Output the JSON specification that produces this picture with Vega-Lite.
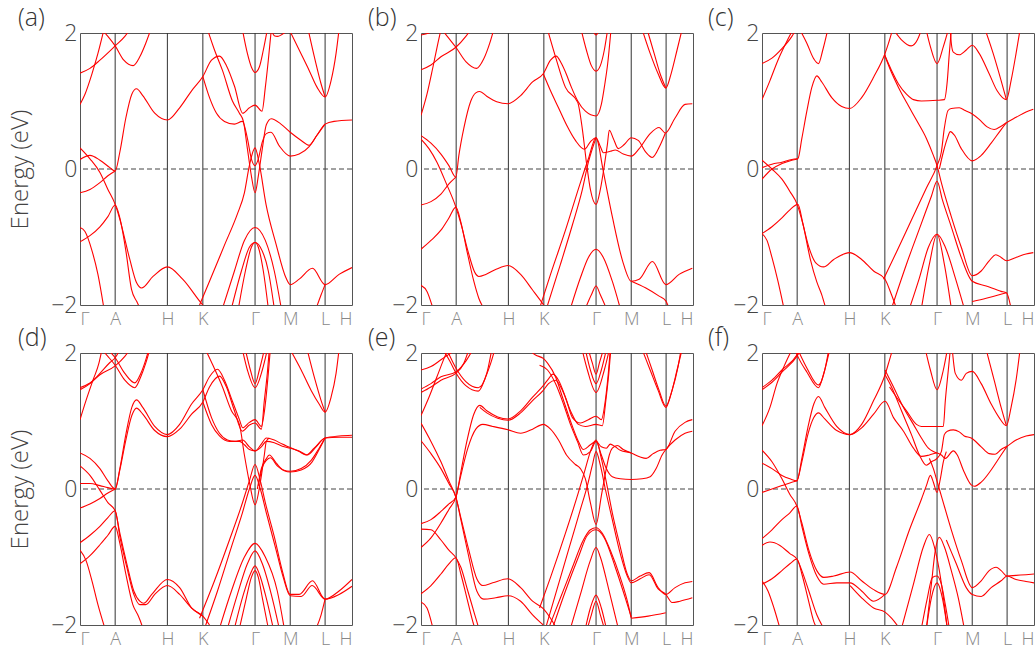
{
"$schema":"https://vega.github.io/schema/vega-lite/v6.json",
"padding":{"left":8,"top":5,"right":0,"bottom":0},
"config":{"font":"Open Sans","view":{"stroke":"#555","strokeWidth":1},
"axis":{"ticks":false,"domain":false,"grid":false,"labelFontWeight":300,"titleFontWeight":300},
"axisX":{"labelFontSize":18,"labelColor":"#888","labelPadding":5,"labelFlush":true,"labelOverlap":false},
"axisY":{"labelFontSize":23,"labelColor":"#444","labelPadding":3,"titleFontSize":24,"titleColor":"#444","titlePadding":18},
"title":{"fontSize":25,"fontWeight":300,"anchor":"start","frame":"group","color":"#333","offset":4,"dy":13}},
"datasets":{
"sym":[{"k":35.3},{"k":87.7},{"k":123.3},{"k":175.7},{"k":211},{"k":246}],
"zero":[{"e":0}],
"pa":[
{"b":1,"k":0,"e":1.41},{"b":1,"k":10,"e":1.48},{"b":1,"k":20,"e":1.6},{"b":1,"k":35.3,"e":1.81},{"b":1,"k":45,"e":1.95},{"b":1,"k":50,"e":2.05},
{"b":2,"k":22,"e":2.05},{"b":2,"k":28,"e":1.95},{"b":2,"k":35.3,"e":1.81},{"b":2,"k":44,"e":1.6},{"b":2,"k":53.3,"e":1.52},{"b":2,"k":60,"e":1.65},{"b":2,"k":66,"e":1.85},{"b":2,"k":71,"e":2.05},
{"b":3,"k":0,"e":0.95},{"b":3,"k":5,"e":1.1},{"b":3,"k":12,"e":1.4},{"b":3,"k":18,"e":1.7},{"b":3,"k":24,"e":2.05},
{"b":4,"k":0,"e":0.31},{"b":4,"k":10,"e":0.15},{"b":4,"k":20,"e":-0.05},{"b":4,"k":28,"e":-0.3},{"b":4,"k":35.3,"e":-0.52},{"b":4,"k":40,"e":-0.74},{"b":4,"k":50,"e":-1.33},{"b":4,"k":56.7,"e":-1.67},{"b":4,"k":61.7,"e":-1.75},{"b":4,"k":73.3,"e":-1.58},{"b":4,"k":87.7,"e":-1.44},{"b":4,"k":103,"e":-1.62},{"b":4,"k":123.3,"e":-2.0},{"b":4,"k":130,"e":-2.1},
{"b":5,"k":0,"e":0.14},{"b":5,"k":10,"e":0.2},{"b":5,"k":20,"e":0.13},{"b":5,"k":30,"e":0.02},{"b":5,"k":35.3,"e":-0.03},{"b":5,"k":40,"e":0.25},{"b":5,"k":46,"e":0.75},{"b":5,"k":52,"e":1.1},{"b":5,"k":56.7,"e":1.18},{"b":5,"k":63,"e":1.08},{"b":5,"k":75,"e":0.82},{"b":5,"k":87.7,"e":0.72},{"b":5,"k":100,"e":0.9},{"b":5,"k":112,"e":1.15},{"b":5,"k":123.3,"e":1.36},{"b":5,"k":132,"e":1.6},{"b":5,"k":140,"e":1.66},{"b":5,"k":147,"e":1.52},{"b":5,"k":155,"e":1.22},{"b":5,"k":163.3,"e":0.82},{"b":5,"k":170,"e":0.9},{"b":5,"k":175.7,"e":0.94},{"b":5,"k":182.7,"e":0.85},{"b":5,"k":186,"e":1.2},{"b":5,"k":189,"e":1.6},{"b":5,"k":192,"e":2.05},
{"b":6,"k":0,"e":-0.35},{"b":6,"k":10,"e":-0.3},{"b":6,"k":20,"e":-0.2},{"b":6,"k":28,"e":-0.1},{"b":6,"k":35.3,"e":-0.03},
{"b":7,"k":0,"e":-1.07},{"b":7,"k":10,"e":-0.98},{"b":7,"k":20,"e":-0.85},{"b":7,"k":28,"e":-0.7},{"b":7,"k":35.3,"e":-0.53},{"b":7,"k":40,"e":-0.72},{"b":7,"k":46,"e":-1.2},{"b":7,"k":51.7,"e":-1.77},{"b":7,"k":57,"e":-1.95},{"b":7,"k":62,"e":-2.1},
{"b":8,"k":0,"e":-0.86},{"b":8,"k":5,"e":-0.92},{"b":8,"k":12,"e":-1.2},{"b":8,"k":18,"e":-1.55},{"b":8,"k":24,"e":-2.05},
{"b":9,"k":128,"e":2.05},{"b":9,"k":135,"e":1.75},{"b":9,"k":143,"e":1.45},{"b":9,"k":153,"e":1.0},{"b":9,"k":160,"e":0.82},{"b":9,"k":164,"e":0.7},{"b":9,"k":168,"e":0.3},{"b":9,"k":172,"e":-0.1},{"b":9,"k":175.7,"e":-0.35},{"b":9,"k":179,"e":-0.1},{"b":9,"k":183,"e":0.3},{"b":9,"k":187,"e":0.65},{"b":9,"k":192,"e":0.74},{"b":9,"k":201.7,"e":0.66},{"b":9,"k":211,"e":0.54},{"b":9,"k":222,"e":0.42},{"b":9,"k":230,"e":0.35},{"b":9,"k":238,"e":0.5},{"b":9,"k":246,"e":0.66},{"b":9,"k":255,"e":0.7},{"b":9,"k":273,"e":0.72},
{"b":10,"k":123.3,"e":1.36},{"b":10,"k":130,"e":1.05},{"b":10,"k":137,"e":0.82},{"b":10,"k":145,"e":0.7},{"b":10,"k":155,"e":0.66},{"b":10,"k":163,"e":0.7},{"b":10,"k":168,"e":0.45},{"b":10,"k":172,"e":0.15},{"b":10,"k":175.7,"e":0.05},{"b":10,"k":179,"e":0.15},{"b":10,"k":183,"e":0.4},{"b":10,"k":187,"e":0.52},{"b":10,"k":191.7,"e":0.54},{"b":10,"k":200,"e":0.34},{"b":10,"k":211,"e":0.19},{"b":10,"k":220,"e":0.22},{"b":10,"k":230,"e":0.33},{"b":10,"k":238,"e":0.5},{"b":10,"k":246,"e":0.66},
{"b":12,"k":120,"e":-2.0},{"b":12,"k":130,"e":-1.65},{"b":12,"k":145,"e":-1.12},{"b":12,"k":158,"e":-0.66},{"b":12,"k":165,"e":-0.35},{"b":12,"k":170,"e":0.05},{"b":12,"k":175.7,"e":0.31},{"b":12,"k":180,"e":0.07},{"b":12,"k":186.7,"e":-0.52},{"b":12,"k":196.7,"e":-1.1},{"b":12,"k":206.7,"e":-1.6},{"b":12,"k":211,"e":-1.7},{"b":12,"k":220,"e":-1.62},{"b":12,"k":233.3,"e":-1.46},{"b":12,"k":246,"e":-1.7},{"b":12,"k":260,"e":-1.55},{"b":12,"k":273,"e":-1.45},
{"b":13,"k":143,"e":-2.05},{"b":13,"k":155,"e":-1.5},{"b":13,"k":165,"e":-1.05},{"b":13,"k":175.7,"e":-0.86},{"b":13,"k":186,"e":-1.05},{"b":13,"k":195,"e":-1.5},{"b":13,"k":202,"e":-2.05},
{"b":14,"k":152,"e":-2.05},{"b":14,"k":162,"e":-1.5},{"b":14,"k":170,"e":-1.15},{"b":14,"k":175.7,"e":-1.08},{"b":14,"k":181,"e":-1.15},{"b":14,"k":189,"e":-1.5},{"b":14,"k":195,"e":-2.05},
{"b":15,"k":159,"e":-2.05},{"b":15,"k":166,"e":-1.5},{"b":15,"k":172,"e":-1.15},{"b":15,"k":175.7,"e":-1.08},{"b":15,"k":179,"e":-1.15},{"b":15,"k":184,"e":-1.5},{"b":15,"k":189,"e":-2.05},
{"b":16,"k":163,"e":2.05},{"b":16,"k":168,"e":1.7},{"b":16,"k":172,"e":1.5},{"b":16,"k":175.7,"e":1.42},{"b":16,"k":180,"e":1.5},{"b":16,"k":184,"e":1.75},{"b":16,"k":188,"e":2.05},
{"b":17,"k":192,"e":2.05},{"b":17,"k":195,"e":1.96},{"b":17,"k":198,"e":1.95},{"b":17,"k":205,"e":2.0},{"b":17,"k":209,"e":2.05},
{"b":18,"k":210,"e":2.05},{"b":18,"k":220,"e":1.75},{"b":18,"k":230,"e":1.45},{"b":18,"k":238,"e":1.2},{"b":18,"k":246,"e":1.06},{"b":18,"k":252,"e":1.3},{"b":18,"k":257,"e":1.7},{"b":18,"k":260,"e":2.05},
{"b":19,"k":229,"e":2.05},{"b":19,"k":236,"e":1.6},{"b":19,"k":242,"e":1.25},{"b":19,"k":246,"e":1.06},
{"b":20,"k":237,"e":-2.05},{"b":20,"k":242,"e":-1.85},{"b":20,"k":246,"e":-1.7}
],
"pb":[
{"b":1,"k":0,"e":1.46},{"b":1,"k":10,"e":1.53},{"b":1,"k":20,"e":1.65},{"b":1,"k":35,"e":1.79},{"b":1,"k":45,"e":1.95},{"b":1,"k":50,"e":2.05},
{"b":2,"k":21,"e":2.05},{"b":2,"k":28,"e":1.92},{"b":2,"k":35,"e":1.79},{"b":2,"k":45,"e":1.58},{"b":2,"k":55.8,"e":1.48},{"b":2,"k":63,"e":1.62},{"b":2,"k":69,"e":1.85},{"b":2,"k":73,"e":2.05},
{"b":3,"k":0,"e":0.79},{"b":3,"k":6,"e":1.1},{"b":3,"k":12,"e":1.5},{"b":3,"k":17,"e":1.85},{"b":3,"k":20,"e":2.05},
{"b":4,"k":0,"e":1.97},{"b":4,"k":8,"e":2.0},{"b":4,"k":15,"e":2.05},
{"b":5,"k":0,"e":0.44},{"b":5,"k":8,"e":0.3},{"b":5,"k":16,"e":0.1},{"b":5,"k":25,"e":-0.2},{"b":5,"k":35,"e":-0.56},{"b":5,"k":40,"e":-0.8},{"b":5,"k":47,"e":-1.2},{"b":5,"k":54,"e":-1.52},{"b":5,"k":58,"e":-1.58},{"b":5,"k":65,"e":-1.55},{"b":5,"k":76,"e":-1.47},{"b":5,"k":87.3,"e":-1.42},{"b":5,"k":100,"e":-1.55},{"b":5,"k":112,"e":-1.78},{"b":5,"k":122.7,"e":-1.99},{"b":5,"k":128,"e":-2.1},
{"b":6,"k":0,"e":0.49},{"b":6,"k":10,"e":0.38},{"b":6,"k":20,"e":0.22},{"b":6,"k":28,"e":0.05},{"b":6,"k":35,"e":-0.12},{"b":6,"k":38,"e":0.2},{"b":6,"k":43,"e":0.6},{"b":6,"k":50,"e":1.0},{"b":6,"k":55,"e":1.12},{"b":6,"k":59,"e":1.14},{"b":6,"k":66,"e":1.07},{"b":6,"k":76,"e":0.99},{"b":6,"k":87.3,"e":0.96},{"b":6,"k":100,"e":1.08},{"b":6,"k":112,"e":1.28},{"b":6,"k":122.7,"e":1.4},{"b":6,"k":130,"e":1.6},{"b":6,"k":135.7,"e":1.66},{"b":6,"k":141,"e":1.55},{"b":6,"k":145.7,"e":1.4},{"b":6,"k":151,"e":1.2},{"b":6,"k":157.3,"e":1.0},{"b":6,"k":165,"e":0.85},{"b":6,"k":175.7,"e":0.78},{"b":6,"k":181,"e":0.95},{"b":6,"k":184.5,"e":1.25},{"b":6,"k":187.3,"e":1.54},{"b":6,"k":190.7,"e":2.05},
{"b":7,"k":0,"e":-0.53},{"b":7,"k":10,"e":-0.48},{"b":7,"k":20,"e":-0.37},{"b":7,"k":28,"e":-0.22},{"b":7,"k":35,"e":-0.12},
{"b":8,"k":0,"e":-1.18},{"b":8,"k":10,"e":-1.05},{"b":8,"k":20,"e":-0.9},{"b":8,"k":28,"e":-0.72},{"b":8,"k":35,"e":-0.56},{"b":8,"k":40,"e":-0.78},{"b":8,"k":46,"e":-1.2},{"b":8,"k":53,"e":-1.65},{"b":8,"k":58,"e":-1.9},{"b":8,"k":63,"e":-2.05},
{"b":9,"k":0,"e":-1.71},{"b":9,"k":6,"e":-1.8},{"b":9,"k":12,"e":-2.05},
{"b":10,"k":122.7,"e":1.4},{"b":10,"k":130,"e":1.15},{"b":10,"k":138,"e":0.9},{"b":10,"k":146,"e":0.65},{"b":10,"k":155,"e":0.42},{"b":10,"k":164,"e":0.29},{"b":10,"k":170,"e":0.4},{"b":10,"k":175.7,"e":0.46},{"b":10,"k":180,"e":0.33},{"b":10,"k":183,"e":0.24},{"b":10,"k":190,"e":0.26},{"b":10,"k":195,"e":0.28},{"b":10,"k":203,"e":0.22},{"b":10,"k":211,"e":0.19},{"b":10,"k":219,"e":0.3},{"b":10,"k":230,"e":0.52},{"b":10,"k":239,"e":0.61},{"b":10,"k":245.3,"e":0.53},{"b":10,"k":255,"e":0.75},{"b":10,"k":265,"e":0.95},{"b":10,"k":272.3,"e":0.96},
{"b":11,"k":127,"e":2.05},{"b":11,"k":135,"e":1.65},{"b":11,"k":145,"e":1.2},{"b":11,"k":157.3,"e":0.98},{"b":11,"k":162,"e":0.58},{"b":11,"k":166,"e":0.1},{"b":11,"k":170,"e":-0.3},{"b":11,"k":175.7,"e":-0.52},{"b":11,"k":180,"e":-0.3},{"b":11,"k":184,"e":0.05},{"b":11,"k":187,"e":0.35},{"b":11,"k":189,"e":0.57},{"b":11,"k":193,"e":0.45},{"b":11,"k":198,"e":0.3},{"b":11,"k":204,"e":0.36},{"b":11,"k":211,"e":0.46},{"b":11,"k":218,"e":0.42},{"b":11,"k":226,"e":0.24},{"b":11,"k":232,"e":0.17},{"b":11,"k":240,"e":0.35},{"b":11,"k":245.3,"e":0.53},
{"b":12,"k":119,"e":-2.05},{"b":12,"k":130,"e":-1.55},{"b":12,"k":145,"e":-0.9},{"b":12,"k":160,"e":-0.2},{"b":12,"k":168,"e":0.15},{"b":12,"k":175.7,"e":0.46},{"b":12,"k":177.3,"e":0.41},{"b":12,"k":182.3,"e":0.02},{"b":12,"k":192.3,"e":-0.72},{"b":12,"k":202.3,"e":-1.35},{"b":12,"k":211,"e":-1.65},{"b":12,"k":219,"e":-1.62},{"b":12,"k":232.3,"e":-1.36},{"b":12,"k":245.7,"e":-1.7},{"b":12,"k":259,"e":-1.55},{"b":12,"k":272.3,"e":-1.46},
{"b":13,"k":126,"e":-2.05},{"b":13,"k":140,"e":-1.4},{"b":13,"k":152,"e":-0.82},{"b":13,"k":162,"e":-0.3},{"b":13,"k":168,"e":0.1},{"b":13,"k":172,"e":0.3},{"b":13,"k":175.7,"e":0.46},
{"b":14,"k":211,"e":-1.65},{"b":14,"k":225.7,"e":-1.75},{"b":14,"k":239,"e":-1.87},{"b":14,"k":245.7,"e":-1.94},{"b":14,"k":249,"e":-2.05},
{"b":15,"k":150,"e":-2.05},{"b":15,"k":160,"e":-1.6},{"b":15,"k":168,"e":-1.3},{"b":15,"k":175.7,"e":-1.18},{"b":15,"k":183,"e":-1.3},{"b":15,"k":192,"e":-1.65},{"b":15,"k":200,"e":-2.05},
{"b":16,"k":165,"e":-2.05},{"b":16,"k":171,"e":-1.85},{"b":16,"k":175.7,"e":-1.72},{"b":16,"k":180,"e":-1.85},{"b":16,"k":186,"e":-2.05},
{"b":17,"k":160.7,"e":2.05},{"b":17,"k":166,"e":1.75},{"b":17,"k":171,"e":1.52},{"b":17,"k":175.7,"e":1.44},{"b":17,"k":180,"e":1.52},{"b":17,"k":184,"e":1.75},{"b":17,"k":187.3,"e":2.05},
{"b":18,"k":172,"e":2.05},{"b":18,"k":175.7,"e":1.97},{"b":18,"k":179,"e":2.05},
{"b":19,"k":222,"e":2.05},{"b":19,"k":230,"e":1.7},{"b":19,"k":238,"e":1.4},{"b":19,"k":245.7,"e":1.19},{"b":19,"k":251,"e":1.4},{"b":19,"k":257,"e":1.75},{"b":19,"k":262,"e":2.05},
{"b":20,"k":227,"e":2.05},{"b":20,"k":234,"e":1.7},{"b":20,"k":240,"e":1.4},{"b":20,"k":245.7,"e":1.19}
],
"pc":[
{"b":1,"k":0,"e":1.55},{"b":1,"k":10,"e":1.63},{"b":1,"k":20,"e":1.77},{"b":1,"k":30,"e":1.95},{"b":1,"k":34,"e":2.05},
{"b":2,"k":0,"e":1.02},{"b":2,"k":8,"e":1.3},{"b":2,"k":16,"e":1.6},{"b":2,"k":24,"e":1.85},{"b":2,"k":31,"e":2.05},
{"b":3,"k":38,"e":2.05},{"b":3,"k":45,"e":1.85},{"b":3,"k":52,"e":1.62},{"b":3,"k":56.7,"e":1.55},{"b":3,"k":61,"e":1.75},{"b":3,"k":66,"e":2.05},
{"b":4,"k":0,"e":0.13},{"b":4,"k":10,"e":0.0},{"b":4,"k":20,"e":-0.15},{"b":4,"k":28,"e":-0.33},{"b":4,"k":35.3,"e":-0.52},{"b":4,"k":40,"e":-0.75},{"b":4,"k":47,"e":-1.15},{"b":4,"k":54,"e":-1.38},{"b":4,"k":61.7,"e":-1.44},{"b":4,"k":72,"e":-1.33},{"b":4,"k":88,"e":-1.23},{"b":4,"k":100,"e":-1.33},{"b":4,"k":112,"e":-1.5},{"b":4,"k":123,"e":-1.61},{"b":4,"k":130,"e":-1.85},{"b":4,"k":135,"e":-2.05},
{"b":5,"k":0,"e":-0.15},{"b":5,"k":10,"e":0.0},{"b":5,"k":20,"e":0.08},{"b":5,"k":30,"e":0.13},{"b":5,"k":36,"e":0.15},{"b":5,"k":40,"e":0.45},{"b":5,"k":45,"e":0.85},{"b":5,"k":50,"e":1.2},{"b":5,"k":55,"e":1.37},{"b":5,"k":60,"e":1.28},{"b":5,"k":70,"e":1.05},{"b":5,"k":80,"e":0.92},{"b":5,"k":88,"e":0.89},{"b":5,"k":100,"e":1.05},{"b":5,"k":112,"e":1.35},{"b":5,"k":123,"e":1.68},{"b":5,"k":127,"e":1.85},{"b":5,"k":131,"e":2.05},
{"b":6,"k":0,"e":0.02},{"b":6,"k":10,"e":0.07},{"b":6,"k":20,"e":0.1},{"b":6,"k":30,"e":0.14},{"b":6,"k":36,"e":0.15},
{"b":7,"k":0,"e":-0.95},{"b":7,"k":10,"e":-0.85},{"b":7,"k":20,"e":-0.72},{"b":7,"k":28,"e":-0.6},{"b":7,"k":36,"e":-0.52},{"b":7,"k":41,"e":-0.8},{"b":7,"k":48.4,"e":-1.32},{"b":7,"k":55,"e":-1.66},{"b":7,"k":60,"e":-1.85},{"b":7,"k":64,"e":-2.05},
{"b":8,"k":0,"e":-0.95},{"b":8,"k":5,"e":-1.05},{"b":8,"k":10,"e":-1.3},{"b":8,"k":16,"e":-1.65},{"b":8,"k":22,"e":-2.05},
{"b":9,"k":123,"e":1.68},{"b":9,"k":130,"e":1.45},{"b":9,"k":137,"e":1.25},{"b":9,"k":145,"e":1.1},{"b":9,"k":152,"e":1.02},{"b":9,"k":160,"e":1.0},{"b":9,"k":175.7,"e":1.01},{"b":9,"k":183,"e":1.02},{"b":9,"k":186,"e":1.3},{"b":9,"k":188,"e":1.7},{"b":9,"k":190,"e":2.05},
{"b":10,"k":132,"e":2.05},{"b":10,"k":140,"e":1.9},{"b":10,"k":149.7,"e":1.81},{"b":10,"k":156,"e":1.9},{"b":10,"k":160,"e":2.05},
{"b":11,"k":164.7,"e":2.05},{"b":11,"k":169,"e":1.8},{"b":11,"k":175.7,"e":1.55},{"b":11,"k":182,"e":1.8},{"b":11,"k":187,"e":2.05},
{"b":12,"k":189,"e":2.05},{"b":12,"k":190,"e":1.85},{"b":12,"k":192,"e":1.72},{"b":12,"k":198,"e":1.68},{"b":12,"k":205,"e":1.75},{"b":12,"k":211,"e":1.82},{"b":12,"k":218,"e":1.7},{"b":12,"k":228,"e":1.4},{"b":12,"k":236,"e":1.15},{"b":12,"k":245.3,"e":1.02},{"b":12,"k":250,"e":1.3},{"b":12,"k":255,"e":1.7},{"b":12,"k":259,"e":2.05},
{"b":13,"k":224,"e":2.05},{"b":13,"k":232,"e":1.7},{"b":13,"k":240,"e":1.3},{"b":13,"k":245.3,"e":1.02},
{"b":14,"k":122,"e":-1.62},{"b":14,"k":135,"e":-1.22},{"b":14,"k":150,"e":-0.75},{"b":14,"k":165,"e":-0.28},{"b":14,"k":175.7,"e":0.05},{"b":14,"k":180,"e":0.25},{"b":14,"k":183,"e":0.6},{"b":14,"k":186.7,"e":0.86},{"b":14,"k":190,"e":0.89},{"b":14,"k":198,"e":0.9},{"b":14,"k":204,"e":0.86},{"b":14,"k":211,"e":0.81},{"b":14,"k":218,"e":0.73},{"b":14,"k":226,"e":0.62},{"b":14,"k":233,"e":0.58},{"b":14,"k":240,"e":0.63},{"b":14,"k":245.3,"e":0.68},{"b":14,"k":255,"e":0.76},{"b":14,"k":265,"e":0.84},{"b":14,"k":272.3,"e":0.88},
{"b":15,"k":123,"e":1.68},{"b":15,"k":128.5,"e":1.47},{"b":15,"k":137,"e":1.2},{"b":15,"k":145,"e":0.98},{"b":15,"k":155,"e":0.72},{"b":15,"k":165,"e":0.45},{"b":15,"k":172,"e":0.2},{"b":15,"k":175.7,"e":0.05},{"b":15,"k":180,"e":-0.2},{"b":15,"k":190,"e":-0.7},{"b":15,"k":200,"e":-1.15},{"b":15,"k":211,"e":-1.57},{"b":15,"k":220,"e":-1.5},{"b":15,"k":228,"e":-1.35},{"b":15,"k":234.7,"e":-1.26},{"b":15,"k":240,"e":-1.3},{"b":15,"k":245.3,"e":-1.35},{"b":15,"k":255,"e":-1.3},{"b":15,"k":265,"e":-1.25},{"b":15,"k":272.3,"e":-1.23},
{"b":16,"k":130,"e":-2.05},{"b":16,"k":145,"e":-1.4},{"b":16,"k":160,"e":-0.8},{"b":16,"k":170,"e":-0.4},{"b":16,"k":175.7,"e":-0.18},{"b":16,"k":181,"e":-0.45},{"b":16,"k":190,"e":-0.85},{"b":16,"k":200,"e":-1.3},{"b":16,"k":211,"e":-1.65},{"b":16,"k":225,"e":-1.72},{"b":16,"k":240,"e":-1.8},{"b":16,"k":245.3,"e":-1.82},{"b":16,"k":250,"e":-2.05},
{"b":17,"k":211,"e":-1.95},{"b":17,"k":225,"e":-1.9},{"b":17,"k":238,"e":-1.85},{"b":17,"k":245.3,"e":-1.82},
{"b":18,"k":148,"e":-2.05},{"b":18,"k":158,"e":-1.6},{"b":18,"k":167,"e":-1.15},{"b":18,"k":175.7,"e":-0.96},{"b":18,"k":184,"e":-1.15},{"b":18,"k":194,"e":-1.6},{"b":18,"k":203,"e":-2.05},
{"b":19,"k":160,"e":-2.05},{"b":19,"k":168,"e":-1.4},{"b":19,"k":175.7,"e":-0.96},{"b":19,"k":183,"e":-1.4},{"b":19,"k":190,"e":-2.05},
{"b":20,"k":178,"e":0.0},{"b":20,"k":182,"e":0.25},{"b":20,"k":186,"e":0.45},{"b":20,"k":189,"e":0.55},{"b":20,"k":193,"e":0.5},{"b":20,"k":200,"e":0.3},{"b":20,"k":211,"e":0.12},{"b":20,"k":220,"e":0.2},{"b":20,"k":230,"e":0.38},{"b":20,"k":240,"e":0.58},{"b":20,"k":245.3,"e":0.68}
],
"pd":[
{"b":1,"k":0,"e":1.49},{"b":1,"k":10,"e":1.56},{"b":1,"k":20,"e":1.68},{"b":1,"k":35.3,"e":1.81},{"b":1,"k":45,"e":1.95},{"b":1,"k":50,"e":2.05},
{"b":2,"k":0,"e":1.46},{"b":2,"k":10,"e":1.55},{"b":2,"k":20,"e":1.7},{"b":2,"k":30,"e":1.86},{"b":2,"k":35.3,"e":1.93},{"b":2,"k":40,"e":2.05},
{"b":3,"k":22,"e":2.05},{"b":3,"k":28,"e":1.95},{"b":3,"k":35.3,"e":1.82},{"b":3,"k":45,"e":1.6},{"b":3,"k":55,"e":1.49},{"b":3,"k":61,"e":1.65},{"b":3,"k":66,"e":1.85},{"b":3,"k":70,"e":2.05},
{"b":4,"k":28,"e":2.05},{"b":4,"k":35.3,"e":1.93},{"b":4,"k":45,"e":1.7},{"b":4,"k":55,"e":1.56},{"b":4,"k":61,"e":1.7},{"b":4,"k":66,"e":1.9},{"b":4,"k":69,"e":2.05},
{"b":5,"k":0,"e":1.02},{"b":5,"k":6,"e":1.3},{"b":5,"k":13,"e":1.6},{"b":5,"k":19,"e":1.85},{"b":5,"k":22,"e":2.05},
{"b":6,"k":0,"e":0.53},{"b":6,"k":10,"e":0.45},{"b":6,"k":20,"e":0.3},{"b":6,"k":28,"e":0.12},{"b":6,"k":35.3,"e":0.0},{"b":6,"k":40,"e":0.3},{"b":6,"k":46,"e":0.8},{"b":6,"k":52,"e":1.2},{"b":6,"k":56.7,"e":1.31},{"b":6,"k":63,"e":1.2},{"b":6,"k":75,"e":0.92},{"b":6,"k":87.7,"e":0.8},{"b":6,"k":100,"e":0.95},{"b":6,"k":112,"e":1.25},{"b":6,"k":123.3,"e":1.46},{"b":6,"k":130,"e":1.65},{"b":6,"k":138,"e":1.76},{"b":6,"k":145,"e":1.6},{"b":6,"k":153,"e":1.29},{"b":6,"k":160,"e":1.02},{"b":6,"k":163.3,"e":0.9},{"b":6,"k":170,"e":0.98},{"b":6,"k":175.7,"e":1.02},{"b":6,"k":182,"e":0.92},{"b":6,"k":186,"e":1.25},{"b":6,"k":189,"e":1.7},{"b":6,"k":191,"e":2.05},
{"b":7,"k":0,"e":0.08},{"b":7,"k":10,"e":0.08},{"b":7,"k":20,"e":0.05},{"b":7,"k":28,"e":0.02},{"b":7,"k":35.3,"e":0.0},{"b":7,"k":40,"e":0.28},{"b":7,"k":46,"e":0.72},{"b":7,"k":52,"e":1.08},{"b":7,"k":56.7,"e":1.19},{"b":7,"k":63,"e":1.1},{"b":7,"k":75,"e":0.86},{"b":7,"k":87.7,"e":0.77},{"b":7,"k":100,"e":0.88},{"b":7,"k":112,"e":1.1},{"b":7,"k":123.3,"e":1.28},{"b":7,"k":130,"e":1.5},{"b":7,"k":140,"e":1.66},{"b":7,"k":147,"e":1.5},{"b":7,"k":155,"e":1.15},{"b":7,"k":163,"e":0.85},{"b":7,"k":170,"e":0.94},{"b":7,"k":175.7,"e":0.97},{"b":7,"k":182,"e":0.88},{"b":7,"k":185,"e":1.3},{"b":7,"k":188,"e":1.7},{"b":7,"k":190,"e":2.05},
{"b":8,"k":0,"e":0.34},{"b":8,"k":10,"e":0.2},{"b":8,"k":20,"e":-0.02},{"b":8,"k":28,"e":-0.2},{"b":8,"k":35.3,"e":-0.32},{"b":8,"k":40,"e":-0.65},{"b":8,"k":47,"e":-1.1},{"b":8,"k":54,"e":-1.5},{"b":8,"k":60,"e":-1.65},{"b":8,"k":64,"e":-1.68},{"b":8,"k":72,"e":-1.55},{"b":8,"k":87.7,"e":-1.33},{"b":8,"k":100,"e":-1.45},{"b":8,"k":112,"e":-1.75},{"b":8,"k":123.3,"e":-1.87},{"b":8,"k":130,"e":-2.0},
{"b":9,"k":0,"e":-0.79},{"b":9,"k":10,"e":-0.68},{"b":9,"k":20,"e":-0.55},{"b":9,"k":28,"e":-0.42},{"b":9,"k":35.3,"e":-0.32},{"b":9,"k":40,"e":-0.7},{"b":9,"k":47,"e":-1.15},{"b":9,"k":54,"e":-1.55},{"b":9,"k":60,"e":-1.7},{"b":9,"k":66,"e":-1.7},{"b":9,"k":75,"e":-1.55},{"b":9,"k":87.7,"e":-1.42},{"b":9,"k":100,"e":-1.55},{"b":9,"k":112,"e":-1.75},{"b":9,"k":123.3,"e":-1.87},
{"b":10,"k":0,"e":-0.28},{"b":10,"k":10,"e":-0.22},{"b":10,"k":20,"e":-0.14},{"b":10,"k":28,"e":-0.06},{"b":10,"k":35.3,"e":0.0},
{"b":11,"k":0,"e":-1.1},{"b":11,"k":10,"e":-0.98},{"b":11,"k":20,"e":-0.82},{"b":11,"k":28,"e":-0.68},{"b":11,"k":35.3,"e":-0.55},{"b":11,"k":40,"e":-0.8},{"b":11,"k":46,"e":-1.25},{"b":11,"k":53,"e":-1.7},{"b":11,"k":58,"e":-1.85},{"b":11,"k":62,"e":-2.0},{"b":11,"k":64,"e":-2.1},
{"b":12,"k":0,"e":-0.9},{"b":12,"k":6,"e":-1.05},{"b":12,"k":12,"e":-1.35},{"b":12,"k":18,"e":-1.7},{"b":12,"k":25,"e":-2.05},
{"b":13,"k":123.3,"e":1.46},{"b":13,"k":132,"e":1.05},{"b":13,"k":140,"e":0.82},{"b":13,"k":148,"e":0.72},{"b":13,"k":155,"e":0.7},{"b":13,"k":163.3,"e":0.72},{"b":13,"k":170,"e":0.62},{"b":13,"k":175.7,"e":0.56},{"b":13,"k":182,"e":0.66},{"b":13,"k":187,"e":0.75},{"b":13,"k":195,"e":0.72},{"b":13,"k":203,"e":0.66},{"b":13,"k":211,"e":0.61},{"b":13,"k":220,"e":0.55},{"b":13,"k":227,"e":0.5},{"b":13,"k":235,"e":0.6},{"b":13,"k":246,"e":0.75},{"b":13,"k":260,"e":0.78},{"b":13,"k":273,"e":0.79},
{"b":14,"k":123.3,"e":1.28},{"b":14,"k":132,"e":0.95},{"b":14,"k":140,"e":0.78},{"b":14,"k":150,"e":0.7},{"b":14,"k":160,"e":0.7},{"b":14,"k":165,"e":0.65},{"b":14,"k":170,"e":0.58},{"b":14,"k":175.7,"e":0.56},{"b":14,"k":182,"e":0.62},{"b":14,"k":187,"e":0.7},{"b":14,"k":195,"e":0.68},{"b":14,"k":203,"e":0.63},{"b":14,"k":211,"e":0.6},{"b":14,"k":220,"e":0.56},{"b":14,"k":228,"e":0.5},{"b":14,"k":237,"e":0.62},{"b":14,"k":246,"e":0.75},{"b":14,"k":260,"e":0.76},{"b":14,"k":273,"e":0.76},
{"b":15,"k":178,"e":0.0},{"b":15,"k":182,"e":0.3},{"b":15,"k":186.7,"e":0.44},{"b":15,"k":190,"e":0.5},{"b":15,"k":197,"e":0.38},{"b":15,"k":204,"e":0.28},{"b":15,"k":211,"e":0.26},{"b":15,"k":222,"e":0.3},{"b":15,"k":232,"e":0.42},{"b":15,"k":240,"e":0.6},{"b":15,"k":246,"e":0.75},
{"b":16,"k":179,"e":0.05},{"b":16,"k":183,"e":0.32},{"b":16,"k":187,"e":0.42},{"b":16,"k":191,"e":0.46},{"b":16,"k":198,"e":0.34},{"b":16,"k":205,"e":0.27},{"b":16,"k":211,"e":0.25},{"b":16,"k":222,"e":0.28},{"b":16,"k":233,"e":0.4},{"b":16,"k":240,"e":0.58},{"b":16,"k":246,"e":0.75},
{"b":17,"k":120,"e":-1.9},{"b":17,"k":135,"e":-1.35},{"b":17,"k":150,"e":-0.75},{"b":17,"k":162,"e":-0.25},{"b":17,"k":170,"e":0.12},{"b":17,"k":175.7,"e":0.36},{"b":17,"k":181,"e":0.12},{"b":17,"k":186,"e":-0.2},{"b":17,"k":195,"e":-0.7},{"b":17,"k":203,"e":-1.2},{"b":17,"k":211,"e":-1.55},{"b":17,"k":220,"e":-1.55},{"b":17,"k":233.3,"e":-1.35},{"b":17,"k":246,"e":-1.62},{"b":17,"k":260,"e":-1.5},{"b":17,"k":273,"e":-1.33},
{"b":18,"k":125,"e":-2.05},{"b":18,"k":138,"e":-1.5},{"b":18,"k":152,"e":-0.85},{"b":18,"k":163,"e":-0.35},{"b":18,"k":170,"e":0.0},{"b":18,"k":175.7,"e":0.2},{"b":18,"k":181,"e":0.0},{"b":18,"k":187,"e":-0.35},{"b":18,"k":196,"e":-0.85},{"b":18,"k":204,"e":-1.3},{"b":18,"k":211,"e":-1.57},{"b":18,"k":222,"e":-1.58},{"b":18,"k":233,"e":-1.42},{"b":18,"k":246,"e":-1.62},{"b":18,"k":260,"e":-1.55},{"b":18,"k":273,"e":-1.43},
{"b":19,"k":126,"e":2.05},{"b":19,"k":134,"e":1.8},{"b":19,"k":143,"e":1.5},{"b":19,"k":152,"e":1.15},{"b":19,"k":160,"e":0.95},{"b":19,"k":165,"e":0.5},{"b":19,"k":170,"e":0.1},{"b":19,"k":175.7,"e":-0.23},{"b":19,"k":181,"e":0.1},{"b":19,"k":185,"e":0.5},{"b":19,"k":187,"e":0.7},{"b":19,"k":190,"e":0.75},
{"b":20,"k":140,"e":-2.05},{"b":20,"k":152,"e":-1.5},{"b":20,"k":165,"e":-1.0},{"b":20,"k":175.7,"e":-0.8},{"b":20,"k":186,"e":-1.0},{"b":20,"k":198,"e":-1.5},{"b":20,"k":205,"e":-2.05},
{"b":21,"k":148,"e":-2.05},{"b":21,"k":158,"e":-1.55},{"b":21,"k":168,"e":-1.1},{"b":21,"k":175.7,"e":-0.91},{"b":21,"k":183,"e":-1.1},{"b":21,"k":192,"e":-1.55},{"b":21,"k":200,"e":-2.05},
{"b":22,"k":155,"e":-2.05},{"b":22,"k":164,"e":-1.55},{"b":22,"k":171,"e":-1.25},{"b":22,"k":175.7,"e":-1.13},{"b":22,"k":180,"e":-1.25},{"b":22,"k":186,"e":-1.55},{"b":22,"k":194,"e":-2.05},
{"b":23,"k":160,"e":-2.05},{"b":23,"k":167,"e":-1.6},{"b":23,"k":172,"e":-1.3},{"b":23,"k":175.7,"e":-1.2},{"b":23,"k":179,"e":-1.3},{"b":23,"k":183,"e":-1.6},{"b":23,"k":189,"e":-2.05},
{"b":24,"k":163,"e":2.05},{"b":24,"k":168,"e":1.75},{"b":24,"k":175.7,"e":1.49},{"b":24,"k":183,"e":1.75},{"b":24,"k":188,"e":2.05},
{"b":25,"k":166,"e":2.05},{"b":25,"k":171,"e":1.75},{"b":25,"k":175.7,"e":1.55},{"b":25,"k":180,"e":1.75},{"b":25,"k":185,"e":2.05},
{"b":26,"k":211,"e":2.05},{"b":26,"k":222,"e":1.75},{"b":26,"k":232,"e":1.45},{"b":26,"k":240,"e":1.25},{"b":26,"k":246,"e":1.13},{"b":26,"k":252,"e":1.35},{"b":26,"k":257,"e":1.7},{"b":26,"k":260,"e":2.05},
{"b":27,"k":228,"e":2.05},{"b":27,"k":236,"e":1.6},{"b":27,"k":242,"e":1.3},{"b":27,"k":246,"e":1.13},
{"b":28,"k":237,"e":-2.05},{"b":28,"k":242,"e":-1.85},{"b":28,"k":246,"e":-1.62}
],
"pe":[
{"b":1,"k":0,"e":1.75},{"b":1,"k":10,"e":1.8},{"b":1,"k":20,"e":1.9},{"b":1,"k":30,"e":2.0},{"b":1,"k":35,"e":2.05},
{"b":2,"k":0,"e":1.47},{"b":2,"k":10,"e":1.55},{"b":2,"k":20,"e":1.65},{"b":2,"k":35,"e":1.72},{"b":2,"k":45,"e":1.88},{"b":2,"k":52,"e":2.05},
{"b":3,"k":0,"e":1.42},{"b":3,"k":10,"e":1.5},{"b":3,"k":20,"e":1.6},{"b":3,"k":35,"e":1.7},{"b":3,"k":43,"e":1.85},{"b":3,"k":48,"e":2.05},
{"b":4,"k":22,"e":2.05},{"b":4,"k":29,"e":1.88},{"b":4,"k":35,"e":1.71},{"b":4,"k":45,"e":1.52},{"b":4,"k":57.5,"e":1.44},{"b":4,"k":65,"e":1.65},{"b":4,"k":70,"e":1.85},{"b":4,"k":74,"e":2.05},
{"b":5,"k":26,"e":2.05},{"b":5,"k":35,"e":1.78},{"b":5,"k":45,"e":1.58},{"b":5,"k":57.5,"e":1.49},{"b":5,"k":66,"e":1.7},{"b":5,"k":71,"e":2.05},
{"b":6,"k":0,"e":1.08},{"b":6,"k":8,"e":1.35},{"b":6,"k":16,"e":1.65},{"b":6,"k":24,"e":1.95},{"b":6,"k":27,"e":2.05},
{"b":7,"k":0,"e":0.97},{"b":7,"k":10,"e":0.7},{"b":7,"k":20,"e":0.4},{"b":7,"k":28,"e":0.12},{"b":7,"k":35,"e":-0.12},{"b":7,"k":40,"e":-0.42},{"b":7,"k":48,"e":-0.9},{"b":7,"k":56,"e":-1.32},{"b":7,"k":62,"e":-1.42},{"b":7,"k":72,"e":-1.38},{"b":7,"k":87.3,"e":-1.32},{"b":7,"k":100,"e":-1.45},{"b":7,"k":112,"e":-1.65},{"b":7,"k":122.7,"e":-1.76},{"b":7,"k":130,"e":-1.9},{"b":7,"k":136,"e":-2.05},
{"b":8,"k":0,"e":0.71},{"b":8,"k":10,"e":0.52},{"b":8,"k":20,"e":0.3},{"b":8,"k":28,"e":0.08},{"b":8,"k":35,"e":-0.12},{"b":8,"k":40,"e":-0.45},{"b":8,"k":48,"e":-1.0},{"b":8,"k":56,"e":-1.5},{"b":8,"k":63,"e":-1.62},{"b":8,"k":75,"e":-1.6},{"b":8,"k":87.3,"e":-1.57},{"b":8,"k":100,"e":-1.65},{"b":8,"k":112,"e":-1.85},{"b":8,"k":122.7,"e":-2.0},
{"b":9,"k":0,"e":-0.51},{"b":9,"k":10,"e":-0.45},{"b":9,"k":20,"e":-0.33},{"b":9,"k":28,"e":-0.22},{"b":9,"k":35,"e":-0.12},{"b":9,"k":40,"e":0.25},{"b":9,"k":46,"e":0.7},{"b":9,"k":53,"e":1.1},{"b":9,"k":59,"e":1.23},{"b":9,"k":66,"e":1.15},{"b":9,"k":77,"e":1.06},{"b":9,"k":87.3,"e":1.03},{"b":9,"k":100,"e":1.15},{"b":9,"k":112,"e":1.35},{"b":9,"k":122.7,"e":1.52},{"b":9,"k":128,"e":1.62},{"b":9,"k":132.3,"e":1.69},{"b":9,"k":138,"e":1.6},{"b":9,"k":145,"e":1.35},{"b":9,"k":152,"e":1.05},{"b":9,"k":160,"e":0.97},{"b":9,"k":168,"e":1.02},{"b":9,"k":175.7,"e":1.07},{"b":9,"k":181,"e":1.02},{"b":9,"k":185,"e":1.3},{"b":9,"k":188,"e":1.7},{"b":9,"k":190,"e":2.05},
{"b":10,"k":0,"e":-0.86},{"b":10,"k":10,"e":-0.72},{"b":10,"k":20,"e":-0.5},{"b":10,"k":28,"e":-0.3},{"b":10,"k":35,"e":-0.12},{"b":10,"k":40,"e":0.2},{"b":10,"k":47,"e":0.6},{"b":10,"k":55,"e":0.88},{"b":10,"k":62,"e":0.95},{"b":10,"k":72,"e":0.92},{"b":10,"k":87.3,"e":0.87},{"b":10,"k":100,"e":0.82},{"b":10,"k":112,"e":0.88},{"b":10,"k":122.7,"e":0.95},{"b":10,"k":130,"e":0.88},{"b":10,"k":138,"e":0.72},{"b":10,"k":146,"e":0.5},{"b":10,"k":155,"e":0.36},{"b":10,"k":160,"e":0.3},{"b":10,"k":165,"e":0.15},{"b":10,"k":170,"e":-0.2},{"b":10,"k":175.7,"e":-0.52},{"b":10,"k":181,"e":-0.1},{"b":10,"k":186,"e":0.3},{"b":10,"k":189,"e":0.5},{"b":10,"k":192,"e":0.6},{"b":10,"k":197,"e":0.64},{"b":10,"k":203,"e":0.58},{"b":10,"k":211,"e":0.53},
{"b":11,"k":0,"e":-0.59},{"b":11,"k":10,"e":-0.6},{"b":11,"k":20,"e":-0.75},{"b":11,"k":28,"e":-0.9},{"b":11,"k":35,"e":-1.01},{"b":11,"k":40,"e":-1.15},{"b":11,"k":47,"e":-1.5},{"b":11,"k":54,"e":-1.85},{"b":11,"k":58,"e":-2.05},
{"b":12,"k":0,"e":-1.54},{"b":12,"k":10,"e":-1.42},{"b":12,"k":20,"e":-1.25},{"b":12,"k":28,"e":-1.1},{"b":12,"k":35,"e":-1.01},{"b":12,"k":40,"e":-1.25},{"b":12,"k":46,"e":-1.6},{"b":12,"k":52,"e":-1.95},{"b":12,"k":54,"e":-2.05},
{"b":13,"k":0,"e":-1.66},{"b":13,"k":6,"e":-1.75},{"b":13,"k":12,"e":-2.05},
{"b":14,"k":59,"e":1.2},{"b":14,"k":66,"e":1.12},{"b":14,"k":77,"e":1.04},{"b":14,"k":87.3,"e":1.01},{"b":14,"k":100,"e":1.12},{"b":14,"k":112,"e":1.3},{"b":14,"k":122.7,"e":1.45},{"b":14,"k":128,"e":1.55},{"b":14,"k":135,"e":1.6},{"b":14,"k":142,"e":1.45},{"b":14,"k":150,"e":1.15},{"b":14,"k":158,"e":0.95},{"b":14,"k":165,"e":0.92},{"b":14,"k":175.7,"e":0.95},{"b":14,"k":182,"e":0.93},{"b":14,"k":185.5,"e":1.3},{"b":14,"k":188.5,"e":1.7},{"b":14,"k":190.5,"e":2.05},
{"b":15,"k":108,"e":2.05},{"b":15,"k":115,"e":1.97},{"b":15,"k":122.7,"e":1.92},{"b":15,"k":127,"e":1.85},{"b":15,"k":135,"e":1.65},{"b":15,"k":142,"e":1.35},{"b":15,"k":150,"e":1.0},{"b":15,"k":158,"e":0.7},{"b":15,"k":163,"e":0.58},{"b":15,"k":170,"e":0.65},{"b":15,"k":175.7,"e":0.7},{"b":15,"k":181,"e":0.62},{"b":15,"k":186,"e":0.6},{"b":15,"k":190,"e":0.66},{"b":15,"k":195,"e":0.62},{"b":15,"k":200,"e":0.57},{"b":15,"k":211,"e":0.53},{"b":15,"k":220,"e":0.47},{"b":15,"k":226,"e":0.45},{"b":15,"k":233,"e":0.52},{"b":15,"k":240,"e":0.57},{"b":15,"k":245.7,"e":0.58},{"b":15,"k":255,"e":0.85},{"b":15,"k":265,"e":0.98},{"b":15,"k":272.3,"e":1.02},
{"b":16,"k":119,"e":1.82},{"b":16,"k":127,"e":1.75},{"b":16,"k":135,"e":1.55},{"b":16,"k":143,"e":1.25},{"b":16,"k":150,"e":0.95},{"b":16,"k":157,"e":0.7},{"b":16,"k":163,"e":0.5},{"b":16,"k":170,"e":0.55},{"b":16,"k":175.7,"e":0.7},{"b":16,"k":181,"e":0.5},{"b":16,"k":186,"e":0.3},{"b":16,"k":192,"e":0.18},{"b":16,"k":200,"e":0.15},{"b":16,"k":211,"e":0.14},{"b":16,"k":222,"e":0.15},{"b":16,"k":230,"e":0.18},{"b":16,"k":236,"e":0.3},{"b":16,"k":242,"e":0.5},{"b":16,"k":245.7,"e":0.58},{"b":16,"k":255,"e":0.72},{"b":16,"k":265,"e":0.82},{"b":16,"k":272.3,"e":0.85},
{"b":17,"k":119,"e":-1.75},{"b":17,"k":130,"e":-1.3},{"b":17,"k":145,"e":-0.65},{"b":17,"k":158,"e":-0.05},{"b":17,"k":165,"e":0.3},{"b":17,"k":170,"e":0.55},{"b":17,"k":175.7,"e":0.72},{"b":17,"k":181,"e":0.45},{"b":17,"k":186,"e":0.1},{"b":17,"k":192,"e":-0.35},{"b":17,"k":200,"e":-0.85},{"b":17,"k":207,"e":-1.25},{"b":17,"k":211,"e":-1.35},{"b":17,"k":220,"e":-1.28},{"b":17,"k":229,"e":-1.23},{"b":17,"k":238,"e":-1.45},{"b":17,"k":245.7,"e":-1.55},{"b":17,"k":255,"e":-1.45},{"b":17,"k":265,"e":-1.38},{"b":17,"k":272.3,"e":-1.36},
{"b":18,"k":125,"e":-2.05},{"b":18,"k":135,"e":-1.55},{"b":18,"k":148,"e":-0.9},{"b":18,"k":160,"e":-0.3},{"b":18,"k":167,"e":0.05},{"b":18,"k":172,"e":0.35},{"b":18,"k":175.7,"e":0.55},{"b":18,"k":180,"e":0.35},{"b":18,"k":185,"e":0.0},{"b":18,"k":192,"e":-0.45},{"b":18,"k":200,"e":-0.95},{"b":18,"k":207,"e":-1.28},{"b":18,"k":211,"e":-1.38},{"b":18,"k":220,"e":-1.32},{"b":18,"k":229,"e":-1.26},{"b":18,"k":238,"e":-1.47},{"b":18,"k":245.7,"e":-1.55},{"b":18,"k":252,"e":-1.67},{"b":18,"k":260,"e":-1.65},{"b":18,"k":272.3,"e":-1.6},
{"b":19,"k":211,"e":-1.9},{"b":19,"k":228,"e":-1.87},{"b":19,"k":245.7,"e":-1.82},
{"b":20,"k":128,"e":-2.05},{"b":20,"k":140,"e":-1.6},{"b":20,"k":152,"e":-1.15},{"b":20,"k":163,"e":-0.75},{"b":20,"k":170,"e":-0.6},{"b":20,"k":175.7,"e":-0.57},{"b":20,"k":182,"e":-0.65},{"b":20,"k":190,"e":-0.9},{"b":20,"k":200,"e":-1.3},{"b":20,"k":208,"e":-1.7},{"b":20,"k":211,"e":-1.9},
{"b":21,"k":132,"e":-2.05},{"b":21,"k":145,"e":-1.5},{"b":21,"k":158,"e":-1.0},{"b":21,"k":167,"e":-0.68},{"b":21,"k":175.7,"e":-0.6},{"b":21,"k":184,"e":-0.72},{"b":21,"k":195,"e":-1.15},{"b":21,"k":205,"e":-1.6},{"b":21,"k":211,"e":-1.88},
{"b":22,"k":150,"e":-2.05},{"b":22,"k":160,"e":-1.55},{"b":22,"k":170,"e":-1.05},{"b":22,"k":175.7,"e":-0.86},{"b":22,"k":180,"e":-1.0},{"b":22,"k":188,"e":-1.45},{"b":22,"k":198,"e":-2.05},
{"b":23,"k":165,"e":-2.05},{"b":23,"k":170,"e":-1.75},{"b":23,"k":175.7,"e":-1.56},{"b":23,"k":181,"e":-1.75},{"b":23,"k":186,"e":-2.05},
{"b":24,"k":167,"e":-2.05},{"b":24,"k":171,"e":-1.85},{"b":24,"k":175.7,"e":-1.65},{"b":24,"k":180,"e":-1.85},{"b":24,"k":184,"e":-2.05},
{"b":25,"k":161.7,"e":2.05},{"b":25,"k":167,"e":1.75},{"b":25,"k":175.7,"e":1.42},{"b":25,"k":184,"e":1.75},{"b":25,"k":189,"e":2.05},
{"b":26,"k":165,"e":2.05},{"b":26,"k":170,"e":1.75},{"b":26,"k":175.7,"e":1.55},{"b":26,"k":181,"e":1.75},{"b":26,"k":186,"e":2.05},
{"b":27,"k":168,"e":2.05},{"b":27,"k":172,"e":1.85},{"b":27,"k":175.7,"e":1.69},{"b":27,"k":179,"e":1.85},{"b":27,"k":183,"e":2.05},
{"b":28,"k":222,"e":2.05},{"b":28,"k":230,"e":1.75},{"b":28,"k":238,"e":1.45},{"b":28,"k":245.7,"e":1.2},{"b":28,"k":251,"e":1.4},{"b":28,"k":257,"e":1.75},{"b":28,"k":262,"e":2.05},
{"b":29,"k":225,"e":2.05},{"b":29,"k":232,"e":1.75},{"b":29,"k":239,"e":1.45},{"b":29,"k":245.7,"e":1.22},{"b":29,"k":252,"e":1.45},{"b":29,"k":258,"e":1.8},{"b":29,"k":261,"e":2.05}
],
"pf":[
{"b":1,"k":0,"e":1.49},{"b":1,"k":10,"e":1.6},{"b":1,"k":20,"e":1.75},{"b":1,"k":35,"e":1.97},{"b":1,"k":38,"e":2.05},
{"b":2,"k":0,"e":1.46},{"b":2,"k":10,"e":1.57},{"b":2,"k":20,"e":1.72},{"b":2,"k":35,"e":1.95},{"b":2,"k":39,"e":2.05},
{"b":3,"k":33,"e":2.05},{"b":3,"k":35,"e":1.98},{"b":3,"k":45,"e":1.72},{"b":3,"k":56.7,"e":1.49},{"b":3,"k":62,"e":1.7},{"b":3,"k":68,"e":2.05},
{"b":4,"k":36,"e":2.05},{"b":4,"k":45,"e":1.78},{"b":4,"k":56.7,"e":1.53},{"b":4,"k":63,"e":1.75},{"b":4,"k":67,"e":2.05},
{"b":5,"k":0,"e":0.93},{"b":5,"k":8,"e":1.2},{"b":5,"k":15,"e":1.55},{"b":5,"k":22,"e":1.8},{"b":5,"k":30,"e":2.05},
{"b":6,"k":0,"e":0.38},{"b":6,"k":10,"e":0.3},{"b":6,"k":20,"e":0.2},{"b":6,"k":28,"e":0.15},{"b":6,"k":35,"e":0.12},{"b":6,"k":40,"e":0.45},{"b":6,"k":46,"e":0.9},{"b":6,"k":52,"e":1.25},{"b":6,"k":56.7,"e":1.36},{"b":6,"k":63,"e":1.2},{"b":6,"k":75,"e":0.92},{"b":6,"k":88.4,"e":0.8},{"b":6,"k":100,"e":0.95},{"b":6,"k":112,"e":1.3},{"b":6,"k":123.5,"e":1.68},{"b":6,"k":128,"e":1.9},{"b":6,"k":131,"e":2.05},
{"b":7,"k":0,"e":-0.05},{"b":7,"k":10,"e":0.0},{"b":7,"k":20,"e":0.05},{"b":7,"k":30,"e":0.1},{"b":7,"k":35,"e":0.12},{"b":7,"k":40,"e":0.4},{"b":7,"k":46,"e":0.8},{"b":7,"k":52,"e":1.05},{"b":7,"k":56.7,"e":1.12},{"b":7,"k":63,"e":1.03},{"b":7,"k":75,"e":0.86},{"b":7,"k":88.4,"e":0.8},{"b":7,"k":100,"e":0.9},{"b":7,"k":112,"e":1.1},{"b":7,"k":123.5,"e":1.29},{"b":7,"k":132,"e":1.05},{"b":7,"k":142,"e":0.85},{"b":7,"k":152,"e":0.6},{"b":7,"k":160,"e":0.48},{"b":7,"k":168,"e":0.5},{"b":7,"k":175.7,"e":0.53},{"b":7,"k":180,"e":0.5},{"b":7,"k":184,"e":0.45},{"b":7,"k":192,"e":0.56},{"b":7,"k":196,"e":0.5},{"b":7,"k":202,"e":0.28},{"b":7,"k":210,"e":0.06},{"b":7,"k":213,"e":0.04},{"b":7,"k":220,"e":0.1},{"b":7,"k":230,"e":0.28},{"b":7,"k":240,"e":0.5},{"b":7,"k":246,"e":0.63},
{"b":8,"k":0,"e":0.57},{"b":8,"k":10,"e":0.4},{"b":8,"k":20,"e":0.15},{"b":8,"k":28,"e":-0.08},{"b":8,"k":35,"e":-0.25},{"b":8,"k":40,"e":-0.5},{"b":8,"k":47,"e":-0.9},{"b":8,"k":55,"e":-1.2},{"b":8,"k":62,"e":-1.3},{"b":8,"k":72,"e":-1.28},{"b":8,"k":88.4,"e":-1.22},{"b":8,"k":100,"e":-1.35},{"b":8,"k":112,"e":-1.48},{"b":8,"k":123.5,"e":-1.55},{"b":8,"k":135,"e":-1.15},{"b":8,"k":148,"e":-0.6},{"b":8,"k":160,"e":-0.15},{"b":8,"k":165,"e":0.05},{"b":8,"k":169,"e":0.2},{"b":8,"k":172,"e":0.1},{"b":8,"k":175.7,"e":-0.05},{"b":8,"k":179,"e":0.15},{"b":8,"k":182,"e":0.4},{"b":8,"k":185,"e":0.55},
{"b":9,"k":0,"e":-0.73},{"b":9,"k":10,"e":-0.6},{"b":9,"k":20,"e":-0.45},{"b":9,"k":28,"e":-0.35},{"b":9,"k":35,"e":-0.25},{"b":9,"k":40,"e":-0.55},{"b":9,"k":47,"e":-0.95},{"b":9,"k":55,"e":-1.28},{"b":9,"k":62,"e":-1.4},{"b":9,"k":75,"e":-1.38},{"b":9,"k":88.4,"e":-1.38},{"b":9,"k":100,"e":-1.5},{"b":9,"k":112,"e":-1.65},{"b":9,"k":123.5,"e":-1.55},
{"b":10,"k":0,"e":-0.83},{"b":10,"k":8,"e":-0.78},{"b":10,"k":18,"e":-0.83},{"b":10,"k":28,"e":-0.95},{"b":10,"k":35,"e":-1.03},{"b":10,"k":40,"e":-1.2},{"b":10,"k":47,"e":-1.5},{"b":10,"k":55,"e":-1.85},{"b":10,"k":62,"e":-2.05},
{"b":11,"k":0,"e":-1.4},{"b":11,"k":10,"e":-1.32},{"b":11,"k":20,"e":-1.2},{"b":11,"k":28,"e":-1.1},{"b":11,"k":35,"e":-1.03},{"b":11,"k":40,"e":-1.25},{"b":11,"k":46,"e":-1.6},{"b":11,"k":52,"e":-1.95},{"b":11,"k":55,"e":-2.05},
{"b":12,"k":0,"e":-1.35},{"b":12,"k":6,"e":-1.5},{"b":12,"k":12,"e":-1.75},{"b":12,"k":18,"e":-2.05},
{"b":13,"k":88.4,"e":-1.42},{"b":13,"k":100,"e":-1.6},{"b":13,"k":112,"e":-1.75},{"b":13,"k":123.5,"e":-1.81},{"b":13,"k":130,"e":-1.9},{"b":13,"k":138,"e":-2.05},
{"b":14,"k":123.5,"e":1.68},{"b":14,"k":130,"e":1.5},{"b":14,"k":140,"e":1.15},{"b":14,"k":150,"e":0.8},{"b":14,"k":158,"e":0.5},{"b":14,"k":165,"e":0.35},{"b":14,"k":170,"e":0.4},{"b":14,"k":175.7,"e":0.45},{"b":14,"k":180,"e":0.55},{"b":14,"k":183,"e":0.8},{"b":14,"k":186,"e":0.85},{"b":14,"k":192,"e":0.87},{"b":14,"k":198,"e":0.84},{"b":14,"k":203,"e":0.78},{"b":14,"k":210,"e":0.75},{"b":14,"k":220,"e":0.62},{"b":14,"k":228,"e":0.52},{"b":14,"k":234,"e":0.51},{"b":14,"k":240,"e":0.58},{"b":14,"k":246,"e":0.63},{"b":14,"k":255,"e":0.72},{"b":14,"k":265,"e":0.78},{"b":14,"k":273,"e":0.8},
{"b":15,"k":128,"e":1.5},{"b":15,"k":135,"e":1.35},{"b":15,"k":145,"e":1.15},{"b":15,"k":155,"e":0.95},{"b":15,"k":160,"e":0.92},{"b":15,"k":170,"e":0.92},{"b":15,"k":182,"e":0.92},{"b":15,"k":184,"e":1.3},{"b":15,"k":187,"e":1.75},{"b":15,"k":189,"e":2.05},
{"b":16,"k":123.5,"e":1.75},{"b":16,"k":132,"e":1.5},{"b":16,"k":142,"e":1.2},{"b":16,"k":152,"e":0.95},{"b":16,"k":160,"e":0.75},{"b":16,"k":167,"e":0.6},{"b":16,"k":172,"e":0.55},{"b":16,"k":175.7,"e":0.53},
{"b":17,"k":168,"e":0.45},{"b":17,"k":172,"e":0.3},{"b":17,"k":176,"e":0.1},{"b":17,"k":180,"e":-0.1},{"b":17,"k":190,"e":-0.6},{"b":17,"k":200,"e":-1.05},{"b":17,"k":211,"e":-1.45},{"b":17,"k":220,"e":-1.35},{"b":17,"k":228,"e":-1.2},{"b":17,"k":235,"e":-1.15},{"b":17,"k":240,"e":-1.2},{"b":17,"k":246,"e":-1.28},{"b":17,"k":255,"e":-1.27},{"b":17,"k":265,"e":-1.26},{"b":17,"k":273,"e":-1.25},
{"b":18,"k":185,"e":-0.75},{"b":18,"k":195,"e":-1.1},{"b":18,"k":205,"e":-1.45},{"b":18,"k":211,"e":-1.55},{"b":18,"k":220,"e":-1.58},{"b":18,"k":230,"e":-1.45},{"b":18,"k":240,"e":-1.35},{"b":18,"k":246,"e":-1.28},{"b":18,"k":255,"e":-1.33},{"b":18,"k":265,"e":-1.36},{"b":18,"k":273,"e":-1.38},
{"b":19,"k":140,"e":-2.05},{"b":19,"k":152,"e":-1.4},{"b":19,"k":162,"e":-0.85},{"b":19,"k":168,"e":-0.67},{"b":19,"k":173,"e":-0.85},{"b":19,"k":178,"e":-1.2},{"b":19,"k":183,"e":-1.7},{"b":19,"k":186,"e":-2.05},
{"b":20,"k":165,"e":-2.05},{"b":20,"k":170,"e":-1.4},{"b":20,"k":174,"e":-0.9},{"b":20,"k":178,"e":-0.71},{"b":20,"k":183,"e":-0.85},{"b":20,"k":190,"e":-1.2},{"b":20,"k":197,"e":-1.6},{"b":20,"k":203,"e":-2.05},
{"b":21,"k":160,"e":-2.05},{"b":21,"k":166,"e":-1.6},{"b":21,"k":171,"e":-1.3},{"b":21,"k":175.7,"e":-1.28},{"b":21,"k":180,"e":-1.4},{"b":21,"k":184,"e":-1.7},{"b":21,"k":188,"e":-2.05},
{"b":22,"k":165,"e":-2.05},{"b":22,"k":170,"e":-1.6},{"b":22,"k":175.7,"e":-1.38},{"b":22,"k":181,"e":-1.6},{"b":22,"k":186,"e":-2.05},
{"b":23,"k":164,"e":2.05},{"b":23,"k":169,"e":1.75},{"b":23,"k":175.7,"e":1.46},{"b":23,"k":182,"e":1.75},{"b":23,"k":186,"e":2.05},
{"b":24,"k":191,"e":2.05},{"b":24,"k":194,"e":1.7},{"b":24,"k":200,"e":1.6},{"b":24,"k":205,"e":1.7},{"b":24,"k":211,"e":1.73},{"b":24,"k":220,"e":1.55},{"b":24,"k":230,"e":1.25},{"b":24,"k":238,"e":1.05},{"b":24,"k":245.3,"e":0.93},{"b":24,"k":250,"e":1.2},{"b":24,"k":255,"e":1.6},{"b":24,"k":259,"e":2.05},
{"b":25,"k":225,"e":2.05},{"b":25,"k":233,"e":1.6},{"b":25,"k":240,"e":1.2},{"b":25,"k":245.3,"e":0.93}
]
},
"columns":3,
"spacing":{"row":48,"column":69},
"bounds":"flush",
"concat":[
{"width":272,"height":272,"title":{"text":"(a)","dx":-62},"layer":[
{"data":{"name":"sym"},"mark":{"type":"rule","color":"#333","strokeWidth":1},"encoding":{"x":{"field":"k","type":"quantitative","scale":{"domain":[0,273],"nice":false,"zero":false},"axis":{"values":[0,35.3,87.7,123.3,175.7,211,246,273],"labelExpr":"datum.value<10?'Γ':datum.value<50?'A':datum.value<100?'H':datum.value<150?'K':datum.value<190?'Γ':datum.value<230?'M':datum.value<260?'L':'H'","title":null}}}},
{"data":{"name":"zero"},"mark":{"type":"rule","color":"#444","strokeDash":[5,3],"strokeWidth":1},"encoding":{"y":{"field":"e","type":"quantitative","scale":{"domain":[-2,2],"nice":false},"axis":{"values":[-2,0,2],"format":"d","title":"Energy (eV)"}}}},
{"data":{"name":"pa"},"mark":{"type":"line","color":"#ff0000","strokeWidth":1.1,"interpolate":"monotone","clip":true},"encoding":{"x":{"field":"k","type":"quantitative","scale":{"domain":[0,273],"nice":false,"zero":false},"axis":{"values":[0,35.3,87.7,123.3,175.7,211,246,273],"labelExpr":"datum.value<10?'Γ':datum.value<50?'A':datum.value<100?'H':datum.value<150?'K':datum.value<190?'Γ':datum.value<230?'M':datum.value<260?'L':'H'","title":null}},"y":{"field":"e","type":"quantitative","scale":{"domain":[-2,2],"nice":false},"axis":{"values":[-2,0,2],"format":"d","title":"Energy (eV)"}},"detail":{"field":"b","type":"nominal"}}}
]},
{"width":272,"height":272,"title":{"text":"(b)","dx":-53},"layer":[
{"data":{"name":"sym"},"mark":{"type":"rule","color":"#333","strokeWidth":1},"encoding":{"x":{"field":"k","type":"quantitative","scale":{"domain":[0,273],"nice":false,"zero":false},"axis":{"values":[0,35.3,87.7,123.3,175.7,211,246,273],"labelExpr":"datum.value<10?'Γ':datum.value<50?'A':datum.value<100?'H':datum.value<150?'K':datum.value<190?'Γ':datum.value<230?'M':datum.value<260?'L':'H'","title":null}}}},
{"data":{"name":"zero"},"mark":{"type":"rule","color":"#444","strokeDash":[5,3],"strokeWidth":1},"encoding":{"y":{"field":"e","type":"quantitative","scale":{"domain":[-2,2],"nice":false},"axis":{"values":[-2,0,2],"format":"d","title":null}}}},
{"data":{"name":"pb"},"mark":{"type":"line","color":"#ff0000","strokeWidth":1.1,"interpolate":"monotone","clip":true},"encoding":{"x":{"field":"k","type":"quantitative","scale":{"domain":[0,273],"nice":false,"zero":false},"axis":{"values":[0,35.3,87.7,123.3,175.7,211,246,273],"labelExpr":"datum.value<10?'Γ':datum.value<50?'A':datum.value<100?'H':datum.value<150?'K':datum.value<190?'Γ':datum.value<230?'M':datum.value<260?'L':'H'","title":null}},"y":{"field":"e","type":"quantitative","scale":{"domain":[-2,2],"nice":false},"axis":{"values":[-2,0,2],"format":"d","title":null}},"detail":{"field":"b","type":"nominal"}}}
]},
{"width":272,"height":272,"title":{"text":"(c)","dx":-54},"layer":[
{"data":{"name":"sym"},"mark":{"type":"rule","color":"#333","strokeWidth":1},"encoding":{"x":{"field":"k","type":"quantitative","scale":{"domain":[0,273],"nice":false,"zero":false},"axis":{"values":[0,35.3,87.7,123.3,175.7,211,246,273],"labelExpr":"datum.value<10?'Γ':datum.value<50?'A':datum.value<100?'H':datum.value<150?'K':datum.value<190?'Γ':datum.value<230?'M':datum.value<260?'L':'H'","title":null}}}},
{"data":{"name":"zero"},"mark":{"type":"rule","color":"#444","strokeDash":[5,3],"strokeWidth":1},"encoding":{"y":{"field":"e","type":"quantitative","scale":{"domain":[-2,2],"nice":false},"axis":{"values":[-2,0,2],"format":"d","title":null}}}},
{"data":{"name":"pc"},"mark":{"type":"line","color":"#ff0000","strokeWidth":1.1,"interpolate":"monotone","clip":true},"encoding":{"x":{"field":"k","type":"quantitative","scale":{"domain":[0,273],"nice":false,"zero":false},"axis":{"values":[0,35.3,87.7,123.3,175.7,211,246,273],"labelExpr":"datum.value<10?'Γ':datum.value<50?'A':datum.value<100?'H':datum.value<150?'K':datum.value<190?'Γ':datum.value<230?'M':datum.value<260?'L':'H'","title":null}},"y":{"field":"e","type":"quantitative","scale":{"domain":[-2,2],"nice":false},"axis":{"values":[-2,0,2],"format":"d","title":null}},"detail":{"field":"b","type":"nominal"}}}
]},
{"width":272,"height":272,"title":{"text":"(d)","dx":-62},"layer":[
{"data":{"name":"sym"},"mark":{"type":"rule","color":"#333","strokeWidth":1},"encoding":{"x":{"field":"k","type":"quantitative","scale":{"domain":[0,273],"nice":false,"zero":false},"axis":{"values":[0,35.3,87.7,123.3,175.7,211,246,273],"labelExpr":"datum.value<10?'Γ':datum.value<50?'A':datum.value<100?'H':datum.value<150?'K':datum.value<190?'Γ':datum.value<230?'M':datum.value<260?'L':'H'","title":null}}}},
{"data":{"name":"zero"},"mark":{"type":"rule","color":"#444","strokeDash":[5,3],"strokeWidth":1},"encoding":{"y":{"field":"e","type":"quantitative","scale":{"domain":[-2,2],"nice":false},"axis":{"values":[-2,0,2],"format":"d","title":"Energy (eV)"}}}},
{"data":{"name":"pd"},"mark":{"type":"line","color":"#ff0000","strokeWidth":1.1,"interpolate":"monotone","clip":true},"encoding":{"x":{"field":"k","type":"quantitative","scale":{"domain":[0,273],"nice":false,"zero":false},"axis":{"values":[0,35.3,87.7,123.3,175.7,211,246,273],"labelExpr":"datum.value<10?'Γ':datum.value<50?'A':datum.value<100?'H':datum.value<150?'K':datum.value<190?'Γ':datum.value<230?'M':datum.value<260?'L':'H'","title":null}},"y":{"field":"e","type":"quantitative","scale":{"domain":[-2,2],"nice":false},"axis":{"values":[-2,0,2],"format":"d","title":"Energy (eV)"}},"detail":{"field":"b","type":"nominal"}}}
]},
{"width":272,"height":272,"title":{"text":"(e)","dx":-53},"layer":[
{"data":{"name":"sym"},"mark":{"type":"rule","color":"#333","strokeWidth":1},"encoding":{"x":{"field":"k","type":"quantitative","scale":{"domain":[0,273],"nice":false,"zero":false},"axis":{"values":[0,35.3,87.7,123.3,175.7,211,246,273],"labelExpr":"datum.value<10?'Γ':datum.value<50?'A':datum.value<100?'H':datum.value<150?'K':datum.value<190?'Γ':datum.value<230?'M':datum.value<260?'L':'H'","title":null}}}},
{"data":{"name":"zero"},"mark":{"type":"rule","color":"#444","strokeDash":[5,3],"strokeWidth":1},"encoding":{"y":{"field":"e","type":"quantitative","scale":{"domain":[-2,2],"nice":false},"axis":{"values":[-2,0,2],"format":"d","title":null}}}},
{"data":{"name":"pe"},"mark":{"type":"line","color":"#ff0000","strokeWidth":1.1,"interpolate":"monotone","clip":true},"encoding":{"x":{"field":"k","type":"quantitative","scale":{"domain":[0,273],"nice":false,"zero":false},"axis":{"values":[0,35.3,87.7,123.3,175.7,211,246,273],"labelExpr":"datum.value<10?'Γ':datum.value<50?'A':datum.value<100?'H':datum.value<150?'K':datum.value<190?'Γ':datum.value<230?'M':datum.value<260?'L':'H'","title":null}},"y":{"field":"e","type":"quantitative","scale":{"domain":[-2,2],"nice":false},"axis":{"values":[-2,0,2],"format":"d","title":null}},"detail":{"field":"b","type":"nominal"}}}
]},
{"width":272,"height":272,"title":{"text":"(f)","dx":-54},"layer":[
{"data":{"name":"sym"},"mark":{"type":"rule","color":"#333","strokeWidth":1},"encoding":{"x":{"field":"k","type":"quantitative","scale":{"domain":[0,273],"nice":false,"zero":false},"axis":{"values":[0,35.3,87.7,123.3,175.7,211,246,273],"labelExpr":"datum.value<10?'Γ':datum.value<50?'A':datum.value<100?'H':datum.value<150?'K':datum.value<190?'Γ':datum.value<230?'M':datum.value<260?'L':'H'","title":null}}}},
{"data":{"name":"zero"},"mark":{"type":"rule","color":"#444","strokeDash":[5,3],"strokeWidth":1},"encoding":{"y":{"field":"e","type":"quantitative","scale":{"domain":[-2,2],"nice":false},"axis":{"values":[-2,0,2],"format":"d","title":null}}}},
{"data":{"name":"pf"},"mark":{"type":"line","color":"#ff0000","strokeWidth":1.1,"interpolate":"monotone","clip":true},"encoding":{"x":{"field":"k","type":"quantitative","scale":{"domain":[0,273],"nice":false,"zero":false},"axis":{"values":[0,35.3,87.7,123.3,175.7,211,246,273],"labelExpr":"datum.value<10?'Γ':datum.value<50?'A':datum.value<100?'H':datum.value<150?'K':datum.value<190?'Γ':datum.value<230?'M':datum.value<260?'L':'H'","title":null}},"y":{"field":"e","type":"quantitative","scale":{"domain":[-2,2],"nice":false},"axis":{"values":[-2,0,2],"format":"d","title":null}},"detail":{"field":"b","type":"nominal"}}}
]}
]
}
